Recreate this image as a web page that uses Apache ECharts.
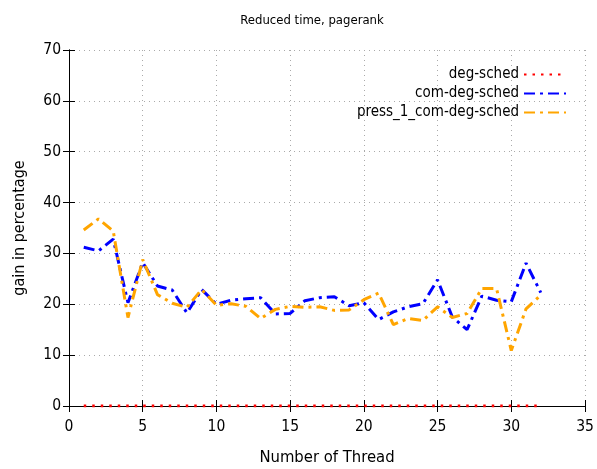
<!DOCTYPE html>
<html><head><meta charset="utf-8">
<script src="https://cdn.jsdelivr.net/npm/echarts@6/dist/echarts.min.js"></script>
<style>html,body{margin:0;padding:0;background:#fff}#c{width:597px;height:469px}</style>
</head><body><div id="c"></div>
<script>
const threads = [1,2,3,4,5,6,7,8,9,10,11,12,13,14,15,16,17,18,19,20,21,22,23,24,25,26,27,28,29,30,31,32];
const degSched = [0,0,0,0,0,0,0,0,0,0,0,0,0,0,0,0,0,0,0,0,0,0,0,0,0,0,0,0,0,0,0,0];
const comDegSched = [31.2,30.5,32.8,20.3,28.2,23.6,22.8,18.3,22.9,20,20.8,21.1,21.3,18.1,18.2,20.7,21.3,21.5,19.7,20.3,17,18.5,19.5,20.1,24.8,17.5,15,21.6,20.8,20.5,28.1,22.3];
const press1ComDegSched = [34.6,36.8,34.4,17.4,28.8,21.9,20.2,19.4,22.9,19.8,20.1,19.6,17.2,19,19.6,19.4,19.5,18.8,18.9,20.9,22.2,16,17.2,16.8,19.5,17.4,18.2,23.1,23.1,10.9,19.1,21.8];
const seriesNames = ['deg-sched','com-deg-sched','press_1_com-deg-sched'];

const FONT = '"DejaVu Sans Condensed", "DejaVu Sans", sans-serif';
const pair = (ys) => threads.map((t,i)=>[t, ys[i]]);
const chart = echarts.init(document.getElementById('c'), null, {renderer:'canvas'});
const axisCommon = {
  axisLine:{show:true,lineStyle:{color:'#000',width:1}},
  axisTick:{show:true,inside:true,length:6,lineStyle:{color:'#000'}},
};
chart.setOption({
  animation:false,
  backgroundColor:'#fff',
  title:{text:'Reduced time, pagerank',left:307,top:9,textAlign:'center',
    textStyle:{fontFamily:FONT,fontSize:13,fontWeight:'normal',color:'#000'}},
  grid:{left:69,right:12,top:50,bottom:63,containLabel:false,outerBoundsMode:'none'},
  legend:{orient:'vertical',right:25,top:62,align:'right',itemGap:4,itemWidth:42,itemHeight:16,
    itemStyle:{opacity:0},
    textStyle:{fontFamily:FONT,fontSize:15,color:'#000'},data:seriesNames},
  xAxis:[{type:'value',min:0,max:35,interval:5,position:'bottom',
    name:'Number of Thread',nameLocation:'middle',nameGap:43,
    nameTextStyle:{fontFamily:FONT,fontSize:16.5,color:'#000'},
    axisLabel:{fontFamily:FONT,fontSize:15.5,color:'#000',margin:13},
    splitLine:{show:true,lineStyle:{color:'#aaa',type:[1,4],width:1}},
    ...axisCommon},
    {type:'value',min:0,max:35,interval:5,position:'top',axisLabel:{show:false},splitLine:{show:false},...axisCommon}],
  yAxis:[{type:'value',min:0,max:70,interval:10,position:'left',
    name:'gain in percentage',nameLocation:'middle',nameGap:41,nameRotate:90,
    nameTextStyle:{fontFamily:FONT,fontSize:16,color:'#000'},
    axisLabel:{fontFamily:FONT,fontSize:15.5,color:'#000',margin:8},
    splitLine:{show:true,lineStyle:{color:'#aaa',type:[1,4],width:1}},
    ...axisCommon},
    {type:'value',min:0,max:70,interval:10,position:'right',axisLabel:{show:false},splitLine:{show:false},...axisCommon}],
  series:[
    {name:seriesNames[0],type:'line',data:pair(degSched),showSymbol:false,symbol:'none',
      lineStyle:{color:'#ff0000',width:3,type:[2.5,6]},itemStyle:{color:'#ff0000'},z:5},
    {name:seriesNames[1],type:'line',data:pair(comDegSched),showSymbol:false,symbol:'none',
      lineStyle:{color:'#0000ff',width:3,type:[11,5,3,5]},itemStyle:{color:'#0000ff'},z:3},
    {name:seriesNames[2],type:'line',data:pair(press1ComDegSched),showSymbol:false,symbol:'none',
      lineStyle:{color:'#ffa500',width:3,type:[11,5,3,5]},itemStyle:{color:'#ffa500'},z:4}
  ]
});
</script></body></html>
